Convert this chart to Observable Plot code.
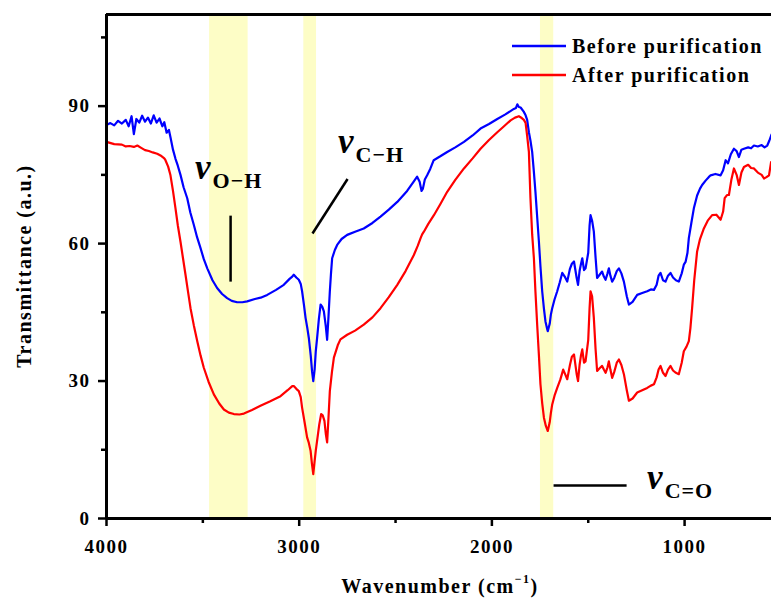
<!DOCTYPE html>
<html><head><meta charset="utf-8">
<script src="https://cdn.jsdelivr.net/npm/d3@7"></script>
<script src="https://cdn.jsdelivr.net/npm/@observablehq/plot@0.6"></script>
<style>
body{margin:0;background:#fff;}
#chart svg{display:block;}
</style></head><body><div id="chart"></div>
<script>
const seriesNames = ["Before purification", "After purification"];
const seriesColors = ["#0000ff", "#ff0000"];

const beforeWn = [4000,3980,3960,3940,3920,3900,3885,3870,3858,3845,3830,3815,3800,3785,3770,3755,3740,3725,3710,3700,3688,3676,3668,3655,3642,3630,3616,3600,3581,3565,3547,3530,3512,3495,3477,3450,3426,3400,3374,3350,3322,3295,3270,3230,3200,3166,3120,3080,3050,3036,3028,3015,3002,2992,2985,2975,2967,2958,2950,2940,2933,2927,2920,2914,2907,2898,2889,2880,2872,2862,2855,2848,2841,2835,2829,2815,2803,2780,2751,2710,2665,2620,2578,2535,2491,2440,2405,2388,2375,2365,2358,2348,2336,2320,2302,2270,2232,2190,2145,2100,2059,2015,1972,1930,1886,1875,1868,1860,1851,1835,1825,1817,1808,1800,1791,1782,1774,1765,1756,1748,1739,1730,1722,1714,1710,1700,1694,1687,1675,1661,1648,1635,1622,1609,1595,1585,1574,1560,1553,1545,1538,1531,1522,1514,1500,1493,1488,1480,1471,1462,1454,1441,1428,1419,1410,1400,1393,1385,1376,1365,1352,1341,1328,1315,1300,1289,1270,1246,1220,1194,1175,1159,1145,1135,1125,1112,1099,1086,1073,1060,1045,1030,1015,1004,995,985,978,965,952,935,920,909,890,875,865,840,813,800,787,775,760,744,730,718,705,692,670,655,640,620,600,585,571,560,549];
const beforeT = [85.9,86.3,85.8,86.8,86.2,87.0,85.6,87.8,83.9,87.2,86.4,87.9,86.6,87.5,86.2,88.0,86.4,87.3,85.6,86.5,84.2,84.8,83.2,80.5,78.5,77.0,75.0,72.3,69.9,66.8,64.1,61.4,59.0,56.6,54.6,52.0,50.3,49.0,48.1,47.5,47.2,47.2,47.4,47.9,48.2,48.8,49.9,51.0,52.3,52.8,53.2,52.6,52.1,51.2,49.6,46.5,43.8,41.6,39.4,35.5,32.0,30.0,32.5,36.5,39.4,43.5,46.7,46.2,45.2,42.0,39.0,44.0,49.6,53.5,56.8,58.6,59.7,61.0,61.9,62.6,63.3,64.5,65.9,67.4,69.1,71.5,73.6,74.6,73.5,71.5,72.0,74.0,74.9,76.3,78.2,79.0,80.0,81.0,82.2,83.6,85.1,86.1,87.2,88.2,89.4,89.6,90.4,89.8,89.7,88.8,88.0,87.0,84.3,82.5,80.0,75.6,71.3,65.8,60.4,55.0,49.6,45.8,43.0,41.5,40.9,42.5,44.5,45.9,47.8,49.6,51.5,53.6,52.8,51.7,54.5,55.6,56.1,52.5,51.0,54.0,55.5,56.8,54.2,54.6,58.0,64.0,66.2,65.0,62.6,57.0,52.5,53.2,53.9,52.8,52.1,53.5,54.6,53.0,51.7,52.5,54.0,54.6,53.5,51.7,48.5,46.7,47.3,48.8,49.2,49.6,50.0,49.9,51.0,53.0,53.6,52.0,51.7,53.0,53.6,52.6,52.0,51.7,53.5,55.4,56.0,58.0,61.2,64.5,67.7,70.5,72.0,72.8,73.8,74.5,74.9,75.2,74.9,76.0,78.2,77.5,79.5,80.7,80.2,78.9,80.5,80.7,81.0,80.8,81.4,81.2,81.5,81.0,81.4,82.5,83.8];

const afterWn = [4000,3960,3920,3900,3880,3858,3840,3820,3800,3780,3760,3737,3715,3700,3694,3680,3668,3655,3642,3630,3616,3603,3590,3577,3564,3547,3529,3512,3495,3470,3443,3415,3391,3365,3339,3310,3287,3245,3201,3150,3097,3060,3036,3028,3015,3002,2992,2985,2972,2959,2950,2941,2934,2927,2920,2914,2907,2896,2886,2878,2869,2862,2855,2848,2841,2830,2820,2800,2786,2751,2710,2665,2620,2578,2535,2491,2448,2405,2385,2370,2362,2353,2330,2301,2265,2232,2190,2145,2100,2059,2015,1972,1940,1903,1880,1860,1845,1834,1825,1817,1808,1800,1791,1782,1774,1765,1756,1748,1739,1730,1720,1710,1700,1694,1687,1675,1661,1645,1630,1620,1609,1595,1585,1574,1560,1553,1545,1538,1531,1522,1514,1500,1493,1488,1480,1471,1462,1454,1441,1428,1419,1410,1400,1393,1385,1376,1365,1352,1341,1328,1315,1300,1289,1270,1246,1220,1194,1175,1159,1145,1135,1125,1112,1099,1086,1073,1060,1045,1030,1015,1004,990,978,970,961,950,935,920,900,880,857,835,813,800,792,780,770,757,744,730,718,705,692,670,655,640,620,600,588,575,562,551];
const afterT = [82.2,81.7,81.6,81.2,81.3,81.1,81.4,80.9,80.4,80.2,79.9,79.6,79.1,78.6,78.2,76.8,74.9,71.5,67.7,64.0,60.4,56.8,53.2,49.5,45.9,42.2,38.7,35.6,32.9,29.8,27.1,25.1,23.8,23.1,22.8,22.7,22.9,23.7,24.6,25.6,26.7,28.0,28.9,28.9,28.3,27.8,26.5,24.2,21.0,17.7,16.5,14.8,12.0,9.7,12.5,14.8,17.0,20.5,22.8,22.5,21.3,18.5,16.6,22.0,27.8,32.0,35.1,37.8,39.1,40.1,41.0,42.3,43.9,45.9,48.3,51.0,54.0,57.5,59.5,61.2,62.0,62.6,64.3,66.2,68.8,71.3,73.9,76.4,78.6,80.7,82.6,84.3,85.5,86.9,87.5,87.8,87.4,87.0,86.3,83.5,80.0,70.0,62.0,56.8,49.5,42.3,35.6,29.3,25.2,22.0,20.2,19.1,21.0,23.0,24.9,26.8,28.5,30.3,32.5,31.5,30.4,33.5,35.3,35.8,31.5,30.0,33.5,35.5,36.9,34.0,34.3,39.0,46.0,49.6,48.5,43.8,37.0,32.2,32.8,33.3,32.5,31.8,33.0,34.3,32.5,30.7,32.0,34.0,34.7,33.5,31.5,28.0,25.7,26.2,27.5,28.0,28.5,29.0,29.3,30.8,32.5,33.3,31.8,31.1,32.5,33.3,32.3,31.8,31.5,34.0,36.5,37.5,38.7,41.5,45.9,52.0,58.3,61.0,63.3,65.0,66.2,66.3,65.2,67.0,69.9,70.6,70.6,74.0,76.4,75.0,72.8,75.5,76.7,77.2,76.5,76.4,75.5,75.0,74.2,74.5,74.9,77.8];

const bandFrom = [3465, 2976, 1748];
const bandTo = [3265, 2910, 1679];

const xMajorTicks = [4000, 3000, 2000, 1000];
const xMinorTicks = [3500, 2500, 1500];
const yMajorTicks = [0, 30, 60, 90];
const yMinorTicks = [15, 45, 75, 105];

const annSub = ["O\u2212H", "C\u2212H", "C=O"];
const annWn = [3538, 2796, 1192];
const annT = [73.9, 79.6, 6.3];
const annLineX1 = [3356, 2749, 1680];
const annLineY1 = [66.1, 74.1, 7.2];
const annLineX2 = [3356, 2931, 1301];
const annLineY2 = [51.7, 62.2, 7.2];

const rows = [];
beforeWn.forEach((w, i) => rows.push({wn: w, t: beforeT[i], s: seriesNames[0]}));
afterWn.forEach((w, i) => rows.push({wn: w, t: afterT[i], s: seriesNames[1]}));
const bands = bandFrom.map((a, i) => ({a, b: bandTo[i]}));
const annLines = annLineX1.map((x1, i) => ({x1, y1: annLineY1[i], x2: annLineX2[i], y2: annLineY2[i]}));

const font = "'Liberation Serif', 'Times New Roman', serif";
const axisOpts = {fontSize: 19, fontWeight: "bold", strokeWidth: 2.5, label: null};

const plot = Plot.plot({
  width: 771, height: 601,
  marginLeft: 106, marginRight: 0, marginTop: 14, marginBottom: 83,
  x: {domain: [4000, 549]},
  y: {domain: [0, 110]},
  color: {domain: seriesNames, range: seriesColors},
  style: {fontFamily: font, background: "white", overflow: "visible"},
  marks: [
    Plot.rect(bands, {x1: "a", x2: "b", y1: 0, y2: 110, fill: "#fdfdc6"}),
    Plot.line(rows, {x: "wn", y: "t", z: "s", stroke: "s", strokeWidth: 2.2, curve: "linear"}),
    Plot.link(annLines, {x1: "x1", y1: "y1", x2: "x2", y2: "y2", stroke: "black", strokeWidth: 2.5}),
    Plot.ruleY([0, 110], {stroke: "black", strokeWidth: 3}),
    Plot.ruleX([4000], {stroke: "black", strokeWidth: 3}),
    Plot.axisX(xMajorTicks, {...axisOpts, tickSize: 8, tickPadding: 13, tickFormat: d => String(d)}),
    Plot.axisX(xMinorTicks, {...axisOpts, tickSize: 5, tickFormat: () => ""}),
    Plot.axisY(yMajorTicks, {...axisOpts, tickSize: 8, tickPadding: 8, tickFormat: d => String(d)}),
    Plot.axisY(yMinorTicks, {...axisOpts, tickSize: 5, tickFormat: () => ""})
  ]
});

document.getElementById("chart").appendChild(plot);
const svg = d3.select(plot);
svg.style("letter-spacing", "1.5px");
const xs = plot.scale("x"), ys = plot.scale("y");

// annotation labels
annSub.forEach((sub, i) => {
  const t = svg.append("text")
    .attr("x", xs.apply(annWn[i])).attr("y", ys.apply(annT[i]))
    .attr("text-anchor", "start")
    .attr("font-family", font).attr("fill", "black").style("letter-spacing", "1px");
  t.append("tspan").attr("font-style", "italic").attr("font-weight", "bold").attr("font-size", 35).text("v");
  t.append("tspan").attr("dy", 9).attr("dx", 1).attr("font-weight", "bold").attr("font-size", 22).text(sub);
});

// legend
const legendY = [46, 75];
seriesNames.forEach((name, i) => {
  svg.append("line").attr("x1", 512).attr("x2", 566).attr("y1", legendY[i]).attr("y2", legendY[i])
    .attr("stroke", seriesColors[i]).attr("stroke-width", 2.5);
  svg.append("text").attr("x", 572).attr("y", legendY[i] + 7).attr("text-anchor", "start")
    .attr("font-family", font).attr("font-weight", "bold").attr("font-size", 20).attr("fill", "black")
    .text(name);
});

// axis titles
const xl = svg.append("text").attr("x", 440).attr("y", 593).attr("text-anchor", "middle")
  .attr("font-family", font).attr("font-weight", "bold").attr("font-size", 20).attr("fill", "black");
xl.append("tspan").text("Wavenumber (cm");
xl.append("tspan").attr("font-size", 12).attr("dy", -10).text("\u22121");
xl.append("tspan").attr("dy", 10).text(")");

svg.append("text").attr("transform", "translate(31,266) rotate(-90)").attr("text-anchor", "middle")
  .attr("font-family", font).attr("font-weight", "bold").attr("font-size", 20).attr("fill", "black")
  .text("Transmittance (a.u.)");
</script>
</body></html>
